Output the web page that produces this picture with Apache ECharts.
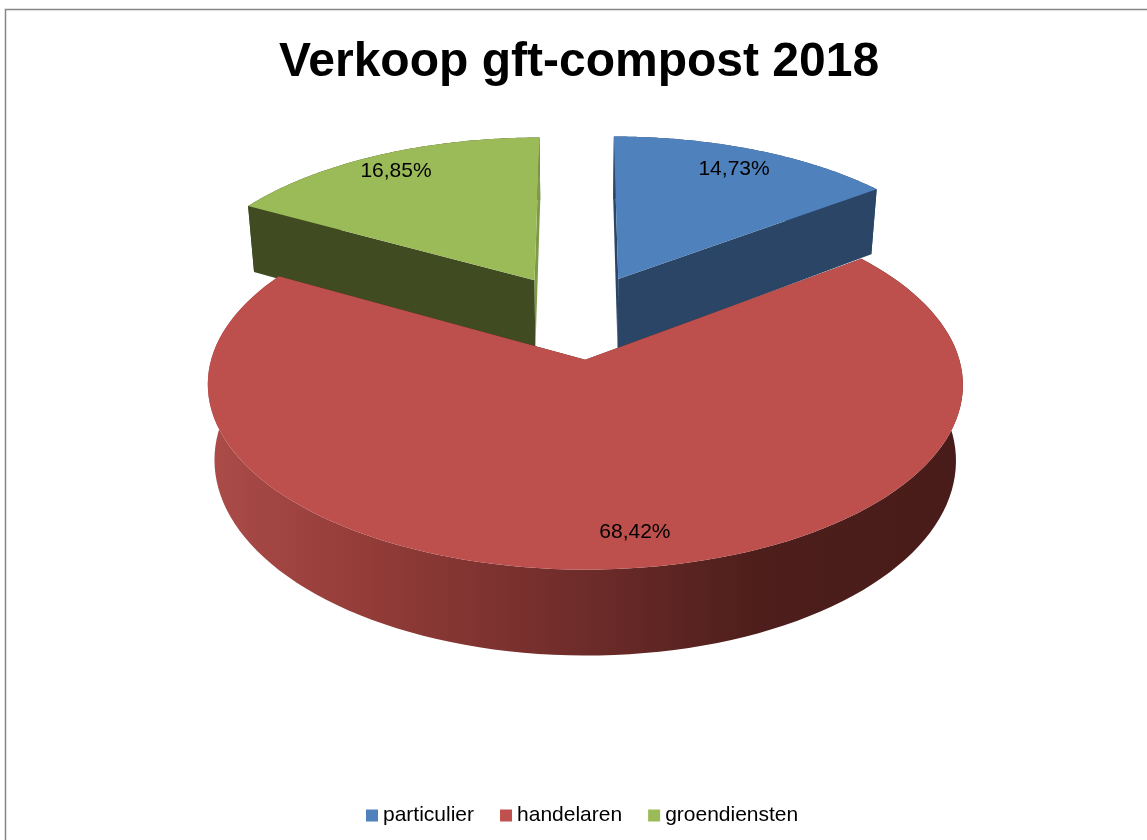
<!DOCTYPE html>
<html>
<head>
<meta charset="utf-8">
<title>Verkoop gft-compost 2018</title>
<script src="https://cdn.jsdelivr.net/npm/echarts@6/dist/echarts.min.js"></script>
<style>
    html, body { margin: 0; padding: 0; background: #fff; }
    #main { width: 1147px; height: 840px; }
</style>
</head>
<body>
<div id="main"></div>
<script>
const chartTitle = 'Verkoop gft-compost 2018';
const categories = ['particulier', 'handelaren', 'groendiensten'];
const shares = [14.73, 68.42, 16.85];

const FONT = '"Liberation Sans", Arial, sans-serif';
const TOP_COLORS = ['#4f81bd', '#bd4f4c', '#9bbb59'];
const WALL_COLORS = ['#2b4566', '#4c1d1a', '#404b21'];

// the plate is a unit disc, this squashes it into the tilted 3d look of the original
const CX = 579, CY = 316;    // projected middle of the pie
const RX = 362, RY = 170;    // radii on screen
const PERSP = 0.13;          // back of the pie is smaller than the front
const DEPTH = 72;            // wall height
const SHRINK = 0.018;        // bottom of the wall pulls in a little
const EXPLODE = 0.25;        // how far slices are pulled out
const LABEL_R = [0.83, 0.85, 0.85];
const LABEL_DX = [0, 25, -4];
const LABEL_DY = -1;

function project(px, py, z) {
    const s = 1 / (1 + PERSP * py);
    return [
        CX + RX * px * s * (1 - SHRINK * z),
        CY - RY * py * s + DEPTH * z * s
    ];
}

// angles run clockwise from 12 o'clock, first slice starts at 0
function sliceAngles(index) {
    const total = shares.reduce((a, b) => a + b, 0);
    let before = 0;
    for (let i = 0; i < index; i++) before += shares[i];
    const start = before / total * Math.PI * 2;
    return [start, start + shares[index] / total * Math.PI * 2];
}

function renderSlice(params) {
    const i = params.seriesIndex;
    const [a0, a1] = sliceAngles(i);
    const mid = (a0 + a1) / 2;
    const ox = EXPLODE * Math.sin(mid);
    const oy = EXPLODE * Math.cos(mid);

    const arc = z => {
        let pts = [];
        for (let n = 0; n <= 120; n++) {
            const a = a0 + (a1 - a0) * n / 120;
            pts.push(project(ox + Math.sin(a), oy + Math.cos(a), z));
        }
        return pts;
    };
    const radialWall = a => [
        project(ox, oy, 0),
        project(ox + Math.sin(a), oy + Math.cos(a), 0),
        project(ox + Math.sin(a), oy + Math.cos(a), 1),
        project(ox, oy, 1)
    ];

    let wallFill = WALL_COLORS[i];
    if (i === 1) {
        // the big slice has a shaded rim, light on the left and dark on the right
        wallFill = {
            type: 'linear', global: true,
            x: CX - RX, y: 0, x2: CX + RX + 30, y2: 0,
            colorStops: [
                { offset: 0, color: '#aa4b48' },
                { offset: 0.2, color: '#933c38' },
                { offset: 0.5, color: '#6c2b29' },
                { offset: 0.72, color: '#4d1e1b' },
                { offset: 1, color: '#481c1a' }
            ]
        };
    }

    const children = [
        { type: 'polygon', shape: { points: arc(0).concat(arc(1).reverse()) }, style: { fill: wallFill } },
        { type: 'polygon', shape: { points: radialWall(a0) }, style: { fill: WALL_COLORS[i] } },
        // sliver next to the gap on the green slice is lit, not dark
        { type: 'polygon', shape: { points: radialWall(a1) }, style: { fill: i === 2 ? '#7d9a48' : WALL_COLORS[i] } },
        { type: 'polygon', shape: { points: [project(ox, oy, 0)].concat(arc(0)) }, style: { fill: TOP_COLORS[i] } }
    ];

    const lp = project(ox + LABEL_R[i] * Math.sin(mid), oy + LABEL_R[i] * Math.cos(mid), 0);
    children.push({
        type: 'text',
        style: {
            x: lp[0] + LABEL_DX[i],
            y: lp[1] + LABEL_DY,
            text: shares[i].toFixed(2).replace('.', ',') + '%',
            font: '21px ' + FONT,
            fill: '#000',
            align: 'center',
            verticalAlign: 'middle'
        }
    });
    return { type: 'group', children: children };
}

let option = {
    animation: false,
    backgroundColor: '#fff',
    title: {
        text: chartTitle,
        left: 574,
        top: 34,
        textAlign: 'center',
        textStyle: { fontFamily: FONT, fontSize: 48, fontWeight: 'bold', color: '#000' }
    },
    legend: {
        data: categories,
        left: 361,
        top: 800,
        icon: 'rect',
        itemWidth: 12,
        itemHeight: 12,
        itemGap: 26,
        textStyle: { fontFamily: FONT, fontSize: 21, color: '#000' }
    },
    graphic: [{
        type: 'polyline',
        silent: true,
        shape: { points: [[5.5, 840], [5.5, 9.5], [1147, 9.5]] },
        style: { stroke: '#868686', lineWidth: 1.5, fill: null }
    }],
    // one series per category so the legend gets its three entries,
    // red goes on top because it covers the walls of the other two
    series: categories.map((name, i) => ({
        name: name,
        type: 'custom',
        coordinateSystem: 'none',
        silent: true,
        z: i === 1 ? 3 : 2,
        itemStyle: { color: ['#4f81bd', '#c0504d', '#9bbb59'][i] },
        renderItem: renderSlice,
        data: [shares[i]]
    }))
};

let myChart = echarts.init(document.getElementById('main'));
myChart.setOption(option);
</script>
</body>
</html>
